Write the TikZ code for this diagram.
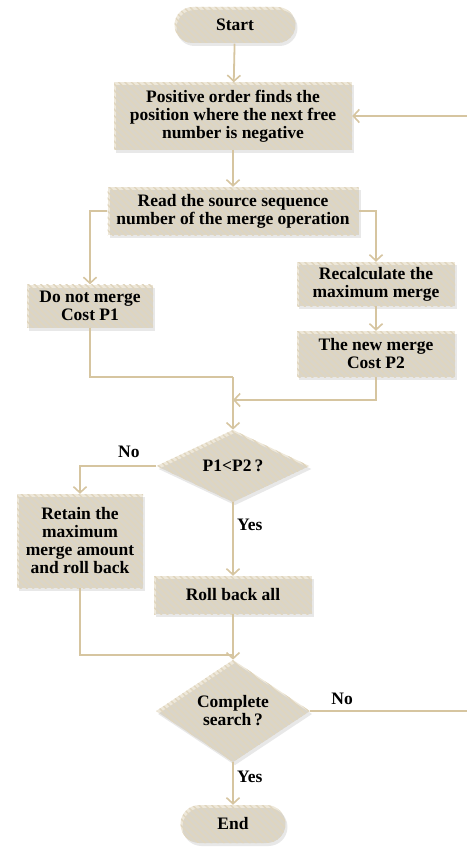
\documentclass[tikz,border=0pt]{standalone}
\usepackage{fontspec}
\setmainfont{Liberation Serif}
\usepackage{tikz}
\usetikzlibrary{arrows.meta,shapes.geometric,shapes.misc,patterns.meta,shadows}
\definecolor{tanline}{RGB}{214,197,160}
\definecolor{boxfill}{RGB}{238,232,218}
\definecolor{boxstripe}{RGB}{224,213,189}
\tikzset{
    hatched/.style={preaction={fill=boxfill},
        pattern={Lines[angle=-45,distance=4.5pt,line width=1.4pt]},
        pattern color=boxstripe,
        drop shadow={opacity=0.18,shadow xshift=2pt,shadow yshift=-3pt}},
    procbox/.style={hatched,rectangle,align=center,inner sep=2pt,
        font=\bfseries\fontsize{17.5}{18}\selectfont},
    termbox/.style={procbox,rounded rectangle},
    decision/.style={procbox,diamond,inner sep=0pt},
    flow/.style={draw=tanline,line width=1.8pt,-{Straight Barb[length=6pt,width=13pt,line width=1.6pt]}},
    plain/.style={draw=tanline,line width=1.8pt},
    lbl/.style={font=\bfseries\fontsize{17.5}{18}\selectfont}
}

\begin{document}
\begin{tikzpicture}[x=1pt,y=-1pt]
\useasboundingbox (0,0) rectangle (466,848);

\node[termbox,minimum width=125,minimum height=36] (start) at (235,25) {Start};
\node[procbox,minimum width=238,minimum height=67] (find) at (233,116)
    {Positive order finds the\\position where the next free\\number is negative};
\node[procbox,minimum width=251,minimum height=48] (read) at (233,211)
    {Read the source sequence\\number of the merge operation};
\node[procbox,minimum width=126,minimum height=43] (nomerge) at (90,306)
    {Do not merge\\Cost P1};
\node[procbox,minimum width=158,minimum height=44] (recalc) at (376,284)
    {Recalculate the\\maximum merge};
\node[procbox,minimum width=158,minimum height=46] (newcost) at (376,354)
    {The new merge\\Cost P2};
\node[decision,minimum width=153,minimum height=65] (cmp) at (233,466)
    {P1<P2\,?};
\node[procbox,minimum width=126,minimum height=94] (retain) at (80,541)
    {Retain the\\maximum\\merge amount\\and roll back};
\node[procbox,minimum width=158,minimum height=38] (rollall) at (233,595)
    {Roll back all};
\node[decision,minimum width=154,minimum height=92] (done) at (233,711)
    {Complete\\search\,?};
\node[termbox,minimum width=109,minimum height=38] (stop) at (233,824) {End};

\coordinate (join1) at (233,377);
\coordinate (join2) at (233,400);
\coordinate (join3) at (233,655);
\coordinate (rim) at (470,0);

\draw[flow] (start) -- (find);
\draw[flow] (find) -- (read);
\draw[flow] (read.west) -| (nomerge);
\draw[flow] (read.east) -| (recalc);
\draw[flow] (recalc) -- (newcost);
\draw[plain] (nomerge) |- (join1);
\draw[flow] (newcost) |- (join2);
\draw[flow] (join1) -- (cmp);
\draw[flow] (cmp.west) -| node[lbl,pos=0.18,above=4pt] {No} (retain);
\draw[flow] (cmp) -- node[lbl,right,pos=0.3] {Yes} (rollall);
\draw[plain] (retain) |- (join3);
\draw[flow] (rollall) -- (done);
\draw[flow] (done.east) -- node[lbl,pos=0.2,above=2pt] {No} (done.east -| rim) |- (find.east);
\draw[flow] (done) -- node[lbl,right,pos=0.35] {Yes} (stop);
\end{tikzpicture}
\end{document}
